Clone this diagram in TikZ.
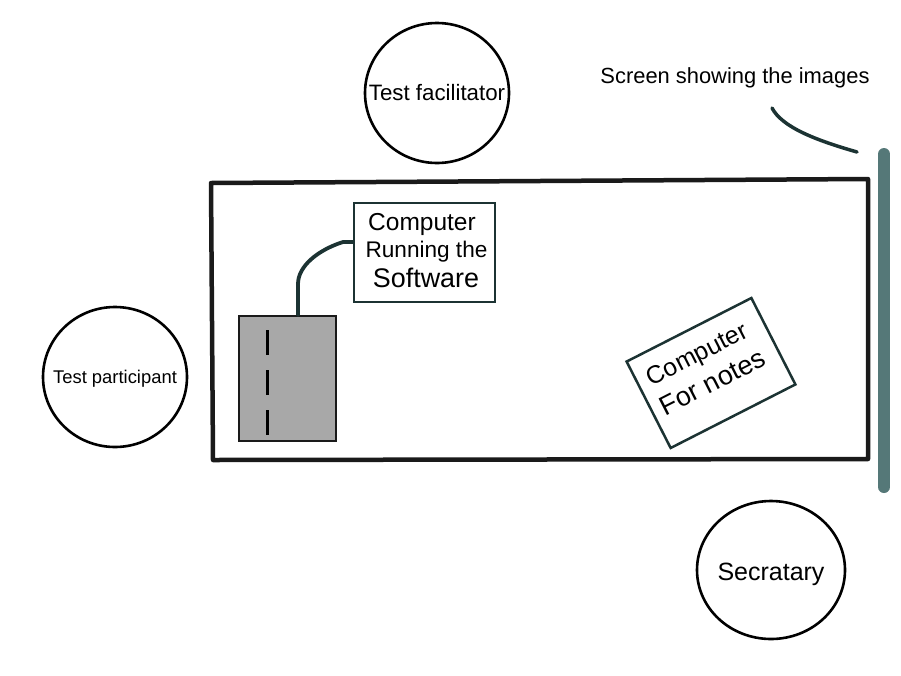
\documentclass[tikz,border=0pt]{standalone}
\usepackage{fontspec}
\setmainfont{Liberation Sans}
\usetikzlibrary{shapes.geometric}
\definecolor{ink}{HTML}{1A1A1A}
\definecolor{cablec}{HTML}{1C3333}
\definecolor{screenc}{HTML}{557878}
\definecolor{towerc}{HTML}{A8A8A8}
\newcommand\myfs[1]{\fontsize{#1}{#1}\selectfont}
\begin{document}
\begin{tikzpicture}[x=1pt,y=-1pt,
  person/.style={ellipse, draw=black, line width=2.6pt, inner sep=0pt, minimum width=144pt, minimum height=140pt},
  lbl/.style={inner sep=0pt},
  boxc/.style={draw=cablec, line width=2.5pt, inner sep=0pt, fill=white},
  wire/.style={draw=cablec, line width=3.8pt, line join=round, line cap=round}]
\useasboundingbox[fill=white] (0,0) rectangle (901,675);

% table
\draw[ink, line width=4.5pt, line join=round] (211,183) -- (868,179) -- (868,459) -- (213,460) -- cycle;

% screen
\draw[screenc, line width=12pt, line cap=round] (884,154) -- (884,487);
\coordinate (sc1) at (772,108);
\coordinate (sc2) at (857,152);
\draw[wire, line width=3.5pt] (sc1) .. controls (782,127) and (815,140) .. (sc2);
\node[lbl, anchor=base] (scr) at (735,83) {\myfs{21.9}Screen showing the images};

% people
\node[person] (fac) at (437,93) {};
\node[lbl] (fact) at (fac.center) {\myfs{22.3}Test facilitator};
\node[person] (par) at (115,377) {};
\node[lbl] (part) at ([yshift=-2pt]par.center) {\myfs{18.4}Test participant};
\node[person, minimum width=148pt, minimum height=138pt] (sec) at (771,570) {};
\node[lbl] (sect) at ([yshift=-4pt]sec.center) {\myfs{25}Secratary};

% tower computer
\node[draw=ink, fill=towerc, line width=2pt, inner sep=0pt, minimum width=97pt, minimum height=125pt] (tower) at (287.5,378.5) {};
\draw[black, line width=3pt, dash pattern=on 25pt off 15pt] (267,330) -- (267,437);

% computer running the software
\node[boxc, minimum width=141pt, minimum height=99pt] (comp) at (424.5,252.5) {};
\node[lbl, anchor=base] (c1) at (422,230) {\myfs{24.5}Computer};
\node[lbl, anchor=base] (c2) at (426.5,257) {\myfs{22.6}Running the};
\node[lbl, anchor=base] (c3) at (426,287) {\myfs{26.9}Software};
\coordinate (cin) at ([yshift=10.5pt]comp.west);
\draw[wire] ([xshift=10.5pt]tower.north) -- (298,284) .. controls (298,266) and (318,250) .. (343,242) -- (cin);

% computer for notes
\begin{scope}[shift={(711,373)}, rotate=27]
\node[boxc, transform shape, minimum width=140pt, minimum height=97pt] (notes) at (0,0) {};
\node[lbl, transform shape, anchor=base west] (n1) at (-59,-15) {\myfs{25}Computer};
\node[lbl, transform shape, anchor=base west] (n2) at (-60,18) {\myfs{27}For notes};
\end{scope}
\end{tikzpicture}
\end{document}
